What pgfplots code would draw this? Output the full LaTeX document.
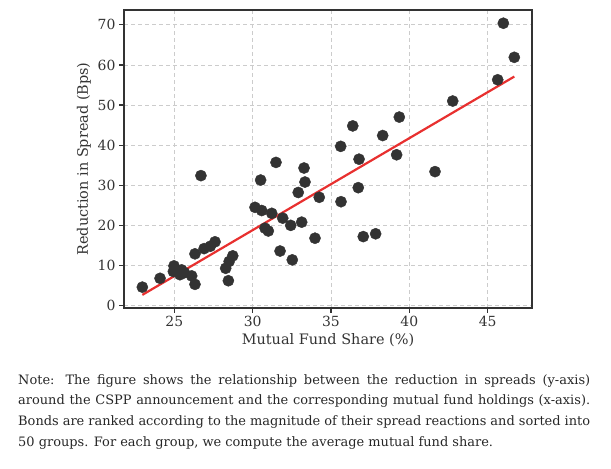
\documentclass[border=0pt]{standalone}
\usepackage{pgfplots}
\pgfplotsset{compat=1.18}
\usepackage{fontspec}
\setmainfont{DejaVu Serif}
\definecolor{dot}{HTML}{333333}
\definecolor{fitc}{HTML}{E8302F}
\definecolor{framec}{HTML}{333333}
\definecolor{gridc}{HTML}{CCCCCC}
\pgfplotstableread{
x y
22.96 4.6
24.09 6.8
24.98 9.9
24.94 8.5
25.47 8.9
25.36 7.7
25.65 8.2
26.11 7.4
26.32 5.3
26.32 12.9
26.90 14.2
27.30 14.8
27.60 15.9
26.70 32.4
28.28 9.3
28.50 11.0
28.73 12.4
28.45 6.2
30.15 24.5
30.58 23.7
31.22 23.0
31.92 21.8
32.43 20.0
33.13 20.8
30.79 19.3
31.00 18.6
31.75 13.6
32.53 11.4
33.98 16.8
30.51 31.3
31.49 35.7
33.28 34.3
33.34 30.8
32.91 28.2
34.25 27.0
35.64 25.9
36.74 29.4
36.79 36.5
35.62 39.7
36.39 44.8
38.30 42.4
37.06 17.2
37.85 17.9
39.19 37.6
46.00 70.4
46.70 61.9
45.64 56.3
42.77 51.0
39.36 47.0
41.64 33.4
}\pts
\pgfplotstableread{
x y
22.96 2.67
46.70 57.1
}\fitline
\begin{document}
\begin{tikzpicture}[x=1bp,y=1bp]
\useasboundingbox (0,0) rectangle (611,469);
\begin{axis}[
  at={(124bp,161bp)}, anchor=south west,
  scale only axis, width=408bp, height=298bp,
  xmin=21.79, xmax=47.83, ymin=-0.6, ymax=73.7,
  xtick={25,30,35,40,45}, ytick={0,10,20,30,40,50,60,70},
  tick align=outside, tick pos=left,
  major tick length=5bp,
  every tick/.style={framec, line width=1.2bp},
  axis line style={framec, line width=1.5bp},
  grid=major, grid style={gridc, dash pattern=on 4bp off 3bp, line width=0.8bp},
  ticklabel style={font=\fontsize{14}{16}\selectfont, text=framec},
  /pgf/number format/assume math mode=true,
  xlabel={Mutual Fund Share (\%)}, ylabel={Reduction in Spread (Bps)},
  label style={font=\fontsize{14.5}{17}\selectfont, text=framec},
  clip=false,
]
\addplot[only marks, mark=*, mark size=5.6bp, mark options={fill=dot, draw=dot}] table {\pts};
\addplot[fitc, line width=2.2bp] table {\fitline};
\end{axis}
\node[anchor=north west, inner sep=0pt, text width=572bp, align=justify,
  font=\fontsize{13}{21}\selectfont, text=black!85] at (18,95)
{Note: The figure shows the relationship between the reduction in spreads (y-axis)\linebreak
around the CSPP announcement and the corresponding mutual fund holdings (x-axis).\linebreak
Bonds are ranked according to the magnitude of their spread reactions and sorted into\linebreak
50 groups. For each group, we compute the average mutual fund share.};
\end{tikzpicture}
\end{document}
